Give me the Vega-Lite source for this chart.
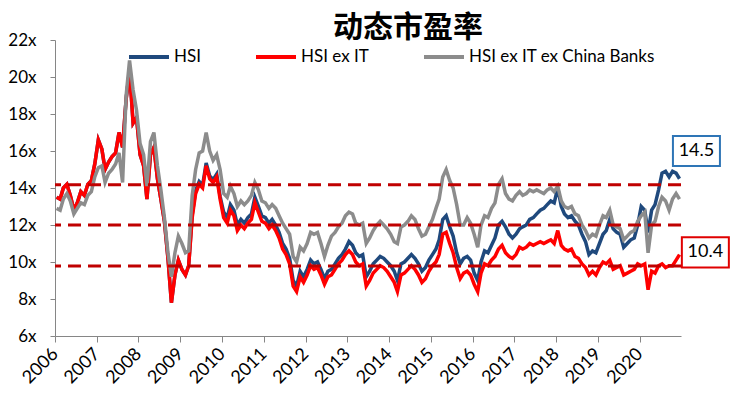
{
  "$schema": "https://vega.github.io/schema/vega-lite/v6.json",
  "width": 626,
  "height": 296,
  "autosize": {"type": "none"},
  "padding": {"left": 55, "top": 40, "right": 54, "bottom": 60},
  "background": "white",
  "title": {
    "text": "动态市盈率",
    "font": "Noto Sans CJK SC",
    "fontSize": 30,
    "fontWeight": "bold",
    "color": "#000000",
    "anchor": "middle",
    "frame": "group",
    "dx": 40,
    "dy": 16,
    "offset": 4
  },
  "config": {
    "view": {"stroke": null},
    "font": "Lato",
    "axis": {
      "domainColor": "#868686",
      "tickColor": "#868686",
      "labelColor": "#000000",
      "labelFont": "Lato",
      "labelFontSize": 17,
      "labelOverlap": false,
      "grid": false,
      "title": null
    },
    "axisY": {"labelOverlap": false}
  },
  "datasets": {
    "pe": [
{"d":"2006-01-15","s":"HSI","v":13.5},{"d":"2006-02-15","s":"HSI","v":13.4},{"d":"2006-03-15","s":"HSI","v":14.0},{"d":"2006-04-15","s":"HSI","v":14.2},{"d":"2006-05-15","s":"HSI","v":13.6},{"d":"2006-06-15","s":"HSI","v":12.8},{"d":"2006-07-15","s":"HSI","v":13.2},{"d":"2006-08-15","s":"HSI","v":13.8},{"d":"2006-09-15","s":"HSI","v":13.6},{"d":"2006-10-15","s":"HSI","v":14.2},{"d":"2006-11-15","s":"HSI","v":14.4},{"d":"2006-12-15","s":"HSI","v":15.3},
{"d":"2007-01-15","s":"HSI","v":16.6},{"d":"2007-02-15","s":"HSI","v":16.1},{"d":"2007-03-15","s":"HSI","v":15.0},{"d":"2007-04-15","s":"HSI","v":15.4},{"d":"2007-05-15","s":"HSI","v":15.7},{"d":"2007-06-15","s":"HSI","v":15.9},{"d":"2007-07-15","s":"HSI","v":17.0},{"d":"2007-08-15","s":"HSI","v":16.2},{"d":"2007-09-15","s":"HSI","v":18.8},{"d":"2007-10-15","s":"HSI","v":20.4},{"d":"2007-11-15","s":"HSI","v":17.5},{"d":"2007-12-15","s":"HSI","v":17.8},
{"d":"2008-01-15","s":"HSI","v":15.8},{"d":"2008-02-15","s":"HSI","v":15.2},{"d":"2008-03-15","s":"HSI","v":13.4},{"d":"2008-04-15","s":"HSI","v":15.8},{"d":"2008-05-15","s":"HSI","v":16.2},{"d":"2008-06-15","s":"HSI","v":14.5},{"d":"2008-07-15","s":"HSI","v":13.4},{"d":"2008-08-15","s":"HSI","v":12.2},{"d":"2008-09-15","s":"HSI","v":10.2},{"d":"2008-10-15","s":"HSI","v":7.8},{"d":"2008-11-15","s":"HSI","v":9.3},{"d":"2008-12-15","s":"HSI","v":10.1},
{"d":"2009-01-15","s":"HSI","v":9.6},{"d":"2009-02-15","s":"HSI","v":9.3},{"d":"2009-03-15","s":"HSI","v":9.8},{"d":"2009-04-15","s":"HSI","v":12.55},{"d":"2009-05-15","s":"HSI","v":13.85},{"d":"2009-06-15","s":"HSI","v":14.35},{"d":"2009-07-15","s":"HSI","v":14.15},{"d":"2009-08-15","s":"HSI","v":15.35},{"d":"2009-09-15","s":"HSI","v":14.65},{"d":"2009-10-15","s":"HSI","v":14.45},{"d":"2009-11-15","s":"HSI","v":14.75},{"d":"2009-12-15","s":"HSI","v":13.55},
{"d":"2010-01-15","s":"HSI","v":12.7},{"d":"2010-02-15","s":"HSI","v":12.4},{"d":"2010-03-15","s":"HSI","v":13.1},{"d":"2010-04-15","s":"HSI","v":12.8},{"d":"2010-05-15","s":"HSI","v":12.0},{"d":"2010-06-15","s":"HSI","v":12.3},{"d":"2010-07-15","s":"HSI","v":12.1},{"d":"2010-08-15","s":"HSI","v":12.4},{"d":"2010-09-15","s":"HSI","v":12.6},{"d":"2010-10-15","s":"HSI","v":13.5},{"d":"2010-11-15","s":"HSI","v":13.0},{"d":"2010-12-15","s":"HSI","v":12.5},
{"d":"2011-01-15","s":"HSI","v":12.4},{"d":"2011-02-15","s":"HSI","v":12.1},{"d":"2011-03-15","s":"HSI","v":12.3},{"d":"2011-04-15","s":"HSI","v":12.0},{"d":"2011-05-15","s":"HSI","v":11.6},{"d":"2011-06-15","s":"HSI","v":11.0},{"d":"2011-07-15","s":"HSI","v":10.7},{"d":"2011-08-15","s":"HSI","v":10.2},{"d":"2011-09-15","s":"HSI","v":9.0},{"d":"2011-10-15","s":"HSI","v":8.7},{"d":"2011-11-15","s":"HSI","v":9.5},{"d":"2011-12-15","s":"HSI","v":9.2},
{"d":"2012-01-15","s":"HSI","v":9.6},{"d":"2012-02-15","s":"HSI","v":10.1},{"d":"2012-03-15","s":"HSI","v":9.9},{"d":"2012-04-15","s":"HSI","v":10.0},{"d":"2012-05-15","s":"HSI","v":9.6},{"d":"2012-06-15","s":"HSI","v":9.1},{"d":"2012-07-15","s":"HSI","v":9.5},{"d":"2012-08-15","s":"HSI","v":9.6},{"d":"2012-09-15","s":"HSI","v":9.9},{"d":"2012-10-15","s":"HSI","v":10.2},{"d":"2012-11-15","s":"HSI","v":10.4},{"d":"2012-12-15","s":"HSI","v":10.7},
{"d":"2013-01-15","s":"HSI","v":11.1},{"d":"2013-02-15","s":"HSI","v":10.9},{"d":"2013-03-15","s":"HSI","v":10.5},{"d":"2013-04-15","s":"HSI","v":10.3},{"d":"2013-05-15","s":"HSI","v":10.4},{"d":"2013-06-15","s":"HSI","v":9.2},{"d":"2013-07-15","s":"HSI","v":9.5},{"d":"2013-08-15","s":"HSI","v":9.9},{"d":"2013-09-15","s":"HSI","v":10.1},{"d":"2013-10-15","s":"HSI","v":10.3},{"d":"2013-11-15","s":"HSI","v":10.2},{"d":"2013-12-15","s":"HSI","v":10.0},
{"d":"2014-01-15","s":"HSI","v":9.8},{"d":"2014-02-15","s":"HSI","v":9.5},{"d":"2014-03-15","s":"HSI","v":9.0},{"d":"2014-04-15","s":"HSI","v":9.9},{"d":"2014-05-15","s":"HSI","v":10.0},{"d":"2014-06-15","s":"HSI","v":10.2},{"d":"2014-07-15","s":"HSI","v":10.4},{"d":"2014-08-15","s":"HSI","v":10.2},{"d":"2014-09-15","s":"HSI","v":9.9},{"d":"2014-10-15","s":"HSI","v":9.5},{"d":"2014-11-15","s":"HSI","v":9.7},{"d":"2014-12-15","s":"HSI","v":10.1},
{"d":"2015-01-15","s":"HSI","v":10.4},{"d":"2015-02-15","s":"HSI","v":10.7},{"d":"2015-03-15","s":"HSI","v":11.2},{"d":"2015-04-15","s":"HSI","v":12.3},{"d":"2015-05-15","s":"HSI","v":12.5},{"d":"2015-06-15","s":"HSI","v":11.9},{"d":"2015-07-15","s":"HSI","v":11.4},{"d":"2015-08-15","s":"HSI","v":10.5},{"d":"2015-09-15","s":"HSI","v":9.9},{"d":"2015-10-15","s":"HSI","v":10.2},{"d":"2015-11-15","s":"HSI","v":10.3},{"d":"2015-12-15","s":"HSI","v":10.1},
{"d":"2016-01-15","s":"HSI","v":9.4},{"d":"2016-02-15","s":"HSI","v":9.0},{"d":"2016-03-15","s":"HSI","v":10.0},{"d":"2016-04-15","s":"HSI","v":10.6},{"d":"2016-05-15","s":"HSI","v":10.5},{"d":"2016-06-15","s":"HSI","v":10.9},{"d":"2016-07-15","s":"HSI","v":11.3},{"d":"2016-08-15","s":"HSI","v":12.0},{"d":"2016-09-15","s":"HSI","v":12.2},{"d":"2016-10-15","s":"HSI","v":11.9},{"d":"2016-11-15","s":"HSI","v":11.5},{"d":"2016-12-15","s":"HSI","v":11.3},
{"d":"2017-01-15","s":"HSI","v":11.5},{"d":"2017-02-15","s":"HSI","v":11.8},{"d":"2017-03-15","s":"HSI","v":11.9},{"d":"2017-04-15","s":"HSI","v":12.0},{"d":"2017-05-15","s":"HSI","v":12.3},{"d":"2017-06-15","s":"HSI","v":12.4},{"d":"2017-07-15","s":"HSI","v":12.6},{"d":"2017-08-15","s":"HSI","v":12.8},{"d":"2017-09-15","s":"HSI","v":12.9},{"d":"2017-10-15","s":"HSI","v":13.1},{"d":"2017-11-15","s":"HSI","v":13.3},{"d":"2017-12-15","s":"HSI","v":13.2},
{"d":"2018-01-15","s":"HSI","v":14.0},{"d":"2018-02-15","s":"HSI","v":13.0},{"d":"2018-03-15","s":"HSI","v":12.6},{"d":"2018-04-15","s":"HSI","v":12.4},{"d":"2018-05-15","s":"HSI","v":12.5},{"d":"2018-06-15","s":"HSI","v":12.2},{"d":"2018-07-15","s":"HSI","v":12.0},{"d":"2018-08-15","s":"HSI","v":11.5},{"d":"2018-09-15","s":"HSI","v":11.1},{"d":"2018-10-15","s":"HSI","v":10.4},{"d":"2018-11-15","s":"HSI","v":10.6},{"d":"2018-12-15","s":"HSI","v":10.5},
{"d":"2019-01-15","s":"HSI","v":11.0},{"d":"2019-02-15","s":"HSI","v":11.5},{"d":"2019-03-15","s":"HSI","v":11.7},{"d":"2019-04-15","s":"HSI","v":12.3},{"d":"2019-05-15","s":"HSI","v":11.8},{"d":"2019-06-15","s":"HSI","v":11.6},{"d":"2019-07-15","s":"HSI","v":11.5},{"d":"2019-08-15","s":"HSI","v":10.8},{"d":"2019-09-15","s":"HSI","v":11.0},{"d":"2019-10-15","s":"HSI","v":11.2},{"d":"2019-11-15","s":"HSI","v":11.3},{"d":"2019-12-15","s":"HSI","v":12.0},
{"d":"2020-01-15","s":"HSI","v":13.0},{"d":"2020-02-15","s":"HSI","v":12.8},{"d":"2020-03-15","s":"HSI","v":11.6},{"d":"2020-04-15","s":"HSI","v":12.8},{"d":"2020-05-15","s":"HSI","v":13.1},{"d":"2020-06-15","s":"HSI","v":13.9},{"d":"2020-07-15","s":"HSI","v":14.8},{"d":"2020-08-15","s":"HSI","v":14.9},{"d":"2020-09-15","s":"HSI","v":14.6},{"d":"2020-10-15","s":"HSI","v":14.9},{"d":"2020-11-15","s":"HSI","v":14.8},{"d":"2020-12-15","s":"HSI","v":14.5},

{"d":"2006-01-15","s":"HSI ex IT","v":13.5},{"d":"2006-02-15","s":"HSI ex IT","v":13.4},{"d":"2006-03-15","s":"HSI ex IT","v":14.0},{"d":"2006-04-15","s":"HSI ex IT","v":14.2},{"d":"2006-05-15","s":"HSI ex IT","v":13.6},{"d":"2006-06-15","s":"HSI ex IT","v":12.8},{"d":"2006-07-15","s":"HSI ex IT","v":13.2},{"d":"2006-08-15","s":"HSI ex IT","v":13.8},{"d":"2006-09-15","s":"HSI ex IT","v":13.6},{"d":"2006-10-15","s":"HSI ex IT","v":14.2},{"d":"2006-11-15","s":"HSI ex IT","v":14.4},{"d":"2006-12-15","s":"HSI ex IT","v":15.3},
{"d":"2007-01-15","s":"HSI ex IT","v":16.6},{"d":"2007-02-15","s":"HSI ex IT","v":16.1},{"d":"2007-03-15","s":"HSI ex IT","v":15.0},{"d":"2007-04-15","s":"HSI ex IT","v":15.4},{"d":"2007-05-15","s":"HSI ex IT","v":15.7},{"d":"2007-06-15","s":"HSI ex IT","v":15.9},{"d":"2007-07-15","s":"HSI ex IT","v":17.0},{"d":"2007-08-15","s":"HSI ex IT","v":16.2},{"d":"2007-09-15","s":"HSI ex IT","v":18.8},{"d":"2007-10-15","s":"HSI ex IT","v":20.4},{"d":"2007-11-15","s":"HSI ex IT","v":17.5},{"d":"2007-12-15","s":"HSI ex IT","v":17.8},
{"d":"2008-01-15","s":"HSI ex IT","v":15.8},{"d":"2008-02-15","s":"HSI ex IT","v":15.2},{"d":"2008-03-15","s":"HSI ex IT","v":13.4},{"d":"2008-04-15","s":"HSI ex IT","v":15.8},{"d":"2008-05-15","s":"HSI ex IT","v":16.2},{"d":"2008-06-15","s":"HSI ex IT","v":14.5},{"d":"2008-07-15","s":"HSI ex IT","v":13.4},{"d":"2008-08-15","s":"HSI ex IT","v":12.2},{"d":"2008-09-15","s":"HSI ex IT","v":10.2},{"d":"2008-10-15","s":"HSI ex IT","v":7.8},{"d":"2008-11-15","s":"HSI ex IT","v":9.3},{"d":"2008-12-15","s":"HSI ex IT","v":10.1},
{"d":"2009-01-15","s":"HSI ex IT","v":9.6},{"d":"2009-02-15","s":"HSI ex IT","v":9.3},{"d":"2009-03-15","s":"HSI ex IT","v":9.8},{"d":"2009-04-15","s":"HSI ex IT","v":12.4},{"d":"2009-05-15","s":"HSI ex IT","v":13.7},{"d":"2009-06-15","s":"HSI ex IT","v":14.2},{"d":"2009-07-15","s":"HSI ex IT","v":14.0},{"d":"2009-08-15","s":"HSI ex IT","v":15.2},{"d":"2009-09-15","s":"HSI ex IT","v":14.5},{"d":"2009-10-15","s":"HSI ex IT","v":14.3},{"d":"2009-11-15","s":"HSI ex IT","v":14.6},{"d":"2009-12-15","s":"HSI ex IT","v":13.4},
{"d":"2010-01-15","s":"HSI ex IT","v":12.4},{"d":"2010-02-15","s":"HSI ex IT","v":12.1},{"d":"2010-03-15","s":"HSI ex IT","v":12.8},{"d":"2010-04-15","s":"HSI ex IT","v":12.5},{"d":"2010-05-15","s":"HSI ex IT","v":11.7},{"d":"2010-06-15","s":"HSI ex IT","v":12.0},{"d":"2010-07-15","s":"HSI ex IT","v":11.8},{"d":"2010-08-15","s":"HSI ex IT","v":12.1},{"d":"2010-09-15","s":"HSI ex IT","v":12.3},{"d":"2010-10-15","s":"HSI ex IT","v":13.2},{"d":"2010-11-15","s":"HSI ex IT","v":12.7},{"d":"2010-12-15","s":"HSI ex IT","v":12.2},
{"d":"2011-01-15","s":"HSI ex IT","v":12.1},{"d":"2011-02-15","s":"HSI ex IT","v":11.8},{"d":"2011-03-15","s":"HSI ex IT","v":12.0},{"d":"2011-04-15","s":"HSI ex IT","v":11.7},{"d":"2011-05-15","s":"HSI ex IT","v":11.3},{"d":"2011-06-15","s":"HSI ex IT","v":10.7},{"d":"2011-07-15","s":"HSI ex IT","v":10.4},{"d":"2011-08-15","s":"HSI ex IT","v":9.9},{"d":"2011-09-15","s":"HSI ex IT","v":8.7},{"d":"2011-10-15","s":"HSI ex IT","v":8.4},{"d":"2011-11-15","s":"HSI ex IT","v":9.2},{"d":"2011-12-15","s":"HSI ex IT","v":8.9},
{"d":"2012-01-15","s":"HSI ex IT","v":9.3},{"d":"2012-02-15","s":"HSI ex IT","v":9.8},{"d":"2012-03-15","s":"HSI ex IT","v":9.6},{"d":"2012-04-15","s":"HSI ex IT","v":9.7},{"d":"2012-05-15","s":"HSI ex IT","v":9.3},{"d":"2012-06-15","s":"HSI ex IT","v":8.8},{"d":"2012-07-15","s":"HSI ex IT","v":9.2},{"d":"2012-08-15","s":"HSI ex IT","v":9.3},{"d":"2012-09-15","s":"HSI ex IT","v":9.6},{"d":"2012-10-15","s":"HSI ex IT","v":9.9},{"d":"2012-11-15","s":"HSI ex IT","v":10.1},{"d":"2012-12-15","s":"HSI ex IT","v":10.4},
{"d":"2013-01-15","s":"HSI ex IT","v":10.6},{"d":"2013-02-15","s":"HSI ex IT","v":10.4},{"d":"2013-03-15","s":"HSI ex IT","v":10.0},{"d":"2013-04-15","s":"HSI ex IT","v":9.8},{"d":"2013-05-15","s":"HSI ex IT","v":9.9},{"d":"2013-06-15","s":"HSI ex IT","v":8.7},{"d":"2013-07-15","s":"HSI ex IT","v":9.0},{"d":"2013-08-15","s":"HSI ex IT","v":9.4},{"d":"2013-09-15","s":"HSI ex IT","v":9.6},{"d":"2013-10-15","s":"HSI ex IT","v":9.8},{"d":"2013-11-15","s":"HSI ex IT","v":9.7},{"d":"2013-12-15","s":"HSI ex IT","v":9.5},
{"d":"2014-01-15","s":"HSI ex IT","v":9.2},{"d":"2014-02-15","s":"HSI ex IT","v":8.9},{"d":"2014-03-15","s":"HSI ex IT","v":8.4},{"d":"2014-04-15","s":"HSI ex IT","v":9.3},{"d":"2014-05-15","s":"HSI ex IT","v":9.4},{"d":"2014-06-15","s":"HSI ex IT","v":9.6},{"d":"2014-07-15","s":"HSI ex IT","v":9.8},{"d":"2014-08-15","s":"HSI ex IT","v":9.6},{"d":"2014-09-15","s":"HSI ex IT","v":9.3},{"d":"2014-10-15","s":"HSI ex IT","v":8.9},{"d":"2014-11-15","s":"HSI ex IT","v":9.1},{"d":"2014-12-15","s":"HSI ex IT","v":9.5},
{"d":"2015-01-15","s":"HSI ex IT","v":9.8},{"d":"2015-02-15","s":"HSI ex IT","v":10.0},{"d":"2015-03-15","s":"HSI ex IT","v":10.4},{"d":"2015-04-15","s":"HSI ex IT","v":11.5},{"d":"2015-05-15","s":"HSI ex IT","v":11.6},{"d":"2015-06-15","s":"HSI ex IT","v":11.0},{"d":"2015-07-15","s":"HSI ex IT","v":10.5},{"d":"2015-08-15","s":"HSI ex IT","v":9.7},{"d":"2015-09-15","s":"HSI ex IT","v":9.1},{"d":"2015-10-15","s":"HSI ex IT","v":9.4},{"d":"2015-11-15","s":"HSI ex IT","v":9.5},{"d":"2015-12-15","s":"HSI ex IT","v":9.3},
{"d":"2016-01-15","s":"HSI ex IT","v":8.8},{"d":"2016-02-15","s":"HSI ex IT","v":8.4},{"d":"2016-03-15","s":"HSI ex IT","v":9.4},{"d":"2016-04-15","s":"HSI ex IT","v":9.9},{"d":"2016-05-15","s":"HSI ex IT","v":9.8},{"d":"2016-06-15","s":"HSI ex IT","v":10.1},{"d":"2016-07-15","s":"HSI ex IT","v":10.3},{"d":"2016-08-15","s":"HSI ex IT","v":10.7},{"d":"2016-09-15","s":"HSI ex IT","v":10.9},{"d":"2016-10-15","s":"HSI ex IT","v":10.5},{"d":"2016-11-15","s":"HSI ex IT","v":10.3},{"d":"2016-12-15","s":"HSI ex IT","v":10.2},
{"d":"2017-01-15","s":"HSI ex IT","v":10.4},{"d":"2017-02-15","s":"HSI ex IT","v":10.8},{"d":"2017-03-15","s":"HSI ex IT","v":10.7},{"d":"2017-04-15","s":"HSI ex IT","v":10.8},{"d":"2017-05-15","s":"HSI ex IT","v":11.0},{"d":"2017-06-15","s":"HSI ex IT","v":10.9},{"d":"2017-07-15","s":"HSI ex IT","v":11.0},{"d":"2017-08-15","s":"HSI ex IT","v":11.1},{"d":"2017-09-15","s":"HSI ex IT","v":11.0},{"d":"2017-10-15","s":"HSI ex IT","v":11.1},{"d":"2017-11-15","s":"HSI ex IT","v":11.2},{"d":"2017-12-15","s":"HSI ex IT","v":11.0},
{"d":"2018-01-15","s":"HSI ex IT","v":11.7},{"d":"2018-02-15","s":"HSI ex IT","v":10.9},{"d":"2018-03-15","s":"HSI ex IT","v":10.7},{"d":"2018-04-15","s":"HSI ex IT","v":10.6},{"d":"2018-05-15","s":"HSI ex IT","v":10.7},{"d":"2018-06-15","s":"HSI ex IT","v":10.3},{"d":"2018-07-15","s":"HSI ex IT","v":10.2},{"d":"2018-08-15","s":"HSI ex IT","v":9.9},{"d":"2018-09-15","s":"HSI ex IT","v":9.7},{"d":"2018-10-15","s":"HSI ex IT","v":9.3},{"d":"2018-11-15","s":"HSI ex IT","v":9.5},{"d":"2018-12-15","s":"HSI ex IT","v":9.3},
{"d":"2019-01-15","s":"HSI ex IT","v":9.7},{"d":"2019-02-15","s":"HSI ex IT","v":10.0},{"d":"2019-03-15","s":"HSI ex IT","v":9.9},{"d":"2019-04-15","s":"HSI ex IT","v":10.1},{"d":"2019-05-15","s":"HSI ex IT","v":9.6},{"d":"2019-06-15","s":"HSI ex IT","v":9.7},{"d":"2019-07-15","s":"HSI ex IT","v":9.8},{"d":"2019-08-15","s":"HSI ex IT","v":9.3},{"d":"2019-09-15","s":"HSI ex IT","v":9.4},{"d":"2019-10-15","s":"HSI ex IT","v":9.5},{"d":"2019-11-15","s":"HSI ex IT","v":9.6},{"d":"2019-12-15","s":"HSI ex IT","v":9.9},
{"d":"2020-01-15","s":"HSI ex IT","v":9.8},{"d":"2020-02-15","s":"HSI ex IT","v":9.9},{"d":"2020-03-15","s":"HSI ex IT","v":8.5},{"d":"2020-04-15","s":"HSI ex IT","v":9.5},{"d":"2020-05-15","s":"HSI ex IT","v":9.4},{"d":"2020-06-15","s":"HSI ex IT","v":9.8},{"d":"2020-07-15","s":"HSI ex IT","v":9.9},{"d":"2020-08-15","s":"HSI ex IT","v":9.7},{"d":"2020-09-15","s":"HSI ex IT","v":9.8},{"d":"2020-10-15","s":"HSI ex IT","v":9.8},{"d":"2020-11-15","s":"HSI ex IT","v":10.1},{"d":"2020-12-15","s":"HSI ex IT","v":10.4},

{"d":"2006-01-15","s":"HSI ex IT ex China Banks","v":12.9},{"d":"2006-02-15","s":"HSI ex IT ex China Banks","v":12.8},{"d":"2006-03-15","s":"HSI ex IT ex China Banks","v":13.4},{"d":"2006-04-15","s":"HSI ex IT ex China Banks","v":13.7},{"d":"2006-05-15","s":"HSI ex IT ex China Banks","v":13.3},{"d":"2006-06-15","s":"HSI ex IT ex China Banks","v":12.6},{"d":"2006-07-15","s":"HSI ex IT ex China Banks","v":12.9},{"d":"2006-08-15","s":"HSI ex IT ex China Banks","v":13.2},{"d":"2006-09-15","s":"HSI ex IT ex China Banks","v":13.1},{"d":"2006-10-15","s":"HSI ex IT ex China Banks","v":13.6},{"d":"2006-11-15","s":"HSI ex IT ex China Banks","v":13.8},{"d":"2006-12-15","s":"HSI ex IT ex China Banks","v":14.6},
{"d":"2007-01-15","s":"HSI ex IT ex China Banks","v":15.1},{"d":"2007-02-15","s":"HSI ex IT ex China Banks","v":15.2},{"d":"2007-03-15","s":"HSI ex IT ex China Banks","v":14.3},{"d":"2007-04-15","s":"HSI ex IT ex China Banks","v":14.8},{"d":"2007-05-15","s":"HSI ex IT ex China Banks","v":15.0},{"d":"2007-06-15","s":"HSI ex IT ex China Banks","v":15.3},{"d":"2007-07-15","s":"HSI ex IT ex China Banks","v":15.9},{"d":"2007-08-15","s":"HSI ex IT ex China Banks","v":14.3},{"d":"2007-09-15","s":"HSI ex IT ex China Banks","v":19.0},{"d":"2007-10-15","s":"HSI ex IT ex China Banks","v":20.9},{"d":"2007-11-15","s":"HSI ex IT ex China Banks","v":19.3},{"d":"2007-12-15","s":"HSI ex IT ex China Banks","v":18.2},
{"d":"2008-01-15","s":"HSI ex IT ex China Banks","v":16.4},{"d":"2008-02-15","s":"HSI ex IT ex China Banks","v":15.8},{"d":"2008-03-15","s":"HSI ex IT ex China Banks","v":14.1},{"d":"2008-04-15","s":"HSI ex IT ex China Banks","v":16.5},{"d":"2008-05-15","s":"HSI ex IT ex China Banks","v":17.0},{"d":"2008-06-15","s":"HSI ex IT ex China Banks","v":15.2},{"d":"2008-07-15","s":"HSI ex IT ex China Banks","v":13.9},{"d":"2008-08-15","s":"HSI ex IT ex China Banks","v":12.4},{"d":"2008-09-15","s":"HSI ex IT ex China Banks","v":10.5},{"d":"2008-10-15","s":"HSI ex IT ex China Banks","v":9.2},{"d":"2008-11-15","s":"HSI ex IT ex China Banks","v":10.5},{"d":"2008-12-15","s":"HSI ex IT ex China Banks","v":11.4},
{"d":"2009-01-15","s":"HSI ex IT ex China Banks","v":11.0},{"d":"2009-02-15","s":"HSI ex IT ex China Banks","v":10.5},{"d":"2009-03-15","s":"HSI ex IT ex China Banks","v":10.6},{"d":"2009-04-15","s":"HSI ex IT ex China Banks","v":13.6},{"d":"2009-05-15","s":"HSI ex IT ex China Banks","v":15.0},{"d":"2009-06-15","s":"HSI ex IT ex China Banks","v":15.9},{"d":"2009-07-15","s":"HSI ex IT ex China Banks","v":16.0},{"d":"2009-08-15","s":"HSI ex IT ex China Banks","v":17.0},{"d":"2009-09-15","s":"HSI ex IT ex China Banks","v":16.0},{"d":"2009-10-15","s":"HSI ex IT ex China Banks","v":15.5},{"d":"2009-11-15","s":"HSI ex IT ex China Banks","v":15.8},{"d":"2009-12-15","s":"HSI ex IT ex China Banks","v":15.0},
{"d":"2010-01-15","s":"HSI ex IT ex China Banks","v":13.7},{"d":"2010-02-15","s":"HSI ex IT ex China Banks","v":13.5},{"d":"2010-03-15","s":"HSI ex IT ex China Banks","v":14.1},{"d":"2010-04-15","s":"HSI ex IT ex China Banks","v":13.7},{"d":"2010-05-15","s":"HSI ex IT ex China Banks","v":13.0},{"d":"2010-06-15","s":"HSI ex IT ex China Banks","v":13.3},{"d":"2010-07-15","s":"HSI ex IT ex China Banks","v":13.1},{"d":"2010-08-15","s":"HSI ex IT ex China Banks","v":13.3},{"d":"2010-09-15","s":"HSI ex IT ex China Banks","v":13.6},{"d":"2010-10-15","s":"HSI ex IT ex China Banks","v":14.3},{"d":"2010-11-15","s":"HSI ex IT ex China Banks","v":13.9},{"d":"2010-12-15","s":"HSI ex IT ex China Banks","v":13.3},
{"d":"2011-01-15","s":"HSI ex IT ex China Banks","v":13.2},{"d":"2011-02-15","s":"HSI ex IT ex China Banks","v":12.9},{"d":"2011-03-15","s":"HSI ex IT ex China Banks","v":13.1},{"d":"2011-04-15","s":"HSI ex IT ex China Banks","v":12.9},{"d":"2011-05-15","s":"HSI ex IT ex China Banks","v":12.5},{"d":"2011-06-15","s":"HSI ex IT ex China Banks","v":12.1},{"d":"2011-07-15","s":"HSI ex IT ex China Banks","v":11.8},{"d":"2011-08-15","s":"HSI ex IT ex China Banks","v":11.5},{"d":"2011-09-15","s":"HSI ex IT ex China Banks","v":10.3},{"d":"2011-10-15","s":"HSI ex IT ex China Banks","v":10.0},{"d":"2011-11-15","s":"HSI ex IT ex China Banks","v":10.8},{"d":"2011-12-15","s":"HSI ex IT ex China Banks","v":10.6},
{"d":"2012-01-15","s":"HSI ex IT ex China Banks","v":11.0},{"d":"2012-02-15","s":"HSI ex IT ex China Banks","v":11.6},{"d":"2012-03-15","s":"HSI ex IT ex China Banks","v":11.5},{"d":"2012-04-15","s":"HSI ex IT ex China Banks","v":11.6},{"d":"2012-05-15","s":"HSI ex IT ex China Banks","v":11.0},{"d":"2012-06-15","s":"HSI ex IT ex China Banks","v":10.3},{"d":"2012-07-15","s":"HSI ex IT ex China Banks","v":10.9},{"d":"2012-08-15","s":"HSI ex IT ex China Banks","v":11.4},{"d":"2012-09-15","s":"HSI ex IT ex China Banks","v":11.6},{"d":"2012-10-15","s":"HSI ex IT ex China Banks","v":11.9},{"d":"2012-11-15","s":"HSI ex IT ex China Banks","v":12.1},{"d":"2012-12-15","s":"HSI ex IT ex China Banks","v":12.5},
{"d":"2013-01-15","s":"HSI ex IT ex China Banks","v":12.7},{"d":"2013-02-15","s":"HSI ex IT ex China Banks","v":12.6},{"d":"2013-03-15","s":"HSI ex IT ex China Banks","v":12.1},{"d":"2013-04-15","s":"HSI ex IT ex China Banks","v":12.0},{"d":"2013-05-15","s":"HSI ex IT ex China Banks","v":12.1},{"d":"2013-06-15","s":"HSI ex IT ex China Banks","v":11.0},{"d":"2013-07-15","s":"HSI ex IT ex China Banks","v":11.3},{"d":"2013-08-15","s":"HSI ex IT ex China Banks","v":11.7},{"d":"2013-09-15","s":"HSI ex IT ex China Banks","v":12.0},{"d":"2013-10-15","s":"HSI ex IT ex China Banks","v":12.2},{"d":"2013-11-15","s":"HSI ex IT ex China Banks","v":12.0},{"d":"2013-12-15","s":"HSI ex IT ex China Banks","v":11.8},
{"d":"2014-01-15","s":"HSI ex IT ex China Banks","v":11.5},{"d":"2014-02-15","s":"HSI ex IT ex China Banks","v":11.1},{"d":"2014-03-15","s":"HSI ex IT ex China Banks","v":11.0},{"d":"2014-04-15","s":"HSI ex IT ex China Banks","v":11.9},{"d":"2014-05-15","s":"HSI ex IT ex China Banks","v":12.0},{"d":"2014-06-15","s":"HSI ex IT ex China Banks","v":12.2},{"d":"2014-07-15","s":"HSI ex IT ex China Banks","v":12.5},{"d":"2014-08-15","s":"HSI ex IT ex China Banks","v":12.3},{"d":"2014-09-15","s":"HSI ex IT ex China Banks","v":11.8},{"d":"2014-10-15","s":"HSI ex IT ex China Banks","v":11.4},{"d":"2014-11-15","s":"HSI ex IT ex China Banks","v":11.5},{"d":"2014-12-15","s":"HSI ex IT ex China Banks","v":11.9},
{"d":"2015-01-15","s":"HSI ex IT ex China Banks","v":12.3},{"d":"2015-02-15","s":"HSI ex IT ex China Banks","v":12.9},{"d":"2015-03-15","s":"HSI ex IT ex China Banks","v":13.4},{"d":"2015-04-15","s":"HSI ex IT ex China Banks","v":14.6},{"d":"2015-05-15","s":"HSI ex IT ex China Banks","v":15.0},{"d":"2015-06-15","s":"HSI ex IT ex China Banks","v":14.4},{"d":"2015-07-15","s":"HSI ex IT ex China Banks","v":14.0},{"d":"2015-08-15","s":"HSI ex IT ex China Banks","v":13.1},{"d":"2015-09-15","s":"HSI ex IT ex China Banks","v":12.0},{"d":"2015-10-15","s":"HSI ex IT ex China Banks","v":12.0},{"d":"2015-11-15","s":"HSI ex IT ex China Banks","v":12.4},{"d":"2015-12-15","s":"HSI ex IT ex China Banks","v":12.1},
{"d":"2016-01-15","s":"HSI ex IT ex China Banks","v":11.5},{"d":"2016-02-15","s":"HSI ex IT ex China Banks","v":10.8},{"d":"2016-03-15","s":"HSI ex IT ex China Banks","v":12.0},{"d":"2016-04-15","s":"HSI ex IT ex China Banks","v":12.5},{"d":"2016-05-15","s":"HSI ex IT ex China Banks","v":12.4},{"d":"2016-06-15","s":"HSI ex IT ex China Banks","v":12.9},{"d":"2016-07-15","s":"HSI ex IT ex China Banks","v":13.2},{"d":"2016-08-15","s":"HSI ex IT ex China Banks","v":14.2},{"d":"2016-09-15","s":"HSI ex IT ex China Banks","v":14.5},{"d":"2016-10-15","s":"HSI ex IT ex China Banks","v":13.7},{"d":"2016-11-15","s":"HSI ex IT ex China Banks","v":13.4},{"d":"2016-12-15","s":"HSI ex IT ex China Banks","v":13.3},
{"d":"2017-01-15","s":"HSI ex IT ex China Banks","v":13.6},{"d":"2017-02-15","s":"HSI ex IT ex China Banks","v":13.8},{"d":"2017-03-15","s":"HSI ex IT ex China Banks","v":13.6},{"d":"2017-04-15","s":"HSI ex IT ex China Banks","v":13.7},{"d":"2017-05-15","s":"HSI ex IT ex China Banks","v":13.9},{"d":"2017-06-15","s":"HSI ex IT ex China Banks","v":13.8},{"d":"2017-07-15","s":"HSI ex IT ex China Banks","v":13.9},{"d":"2017-08-15","s":"HSI ex IT ex China Banks","v":13.8},{"d":"2017-09-15","s":"HSI ex IT ex China Banks","v":13.7},{"d":"2017-10-15","s":"HSI ex IT ex China Banks","v":13.9},{"d":"2017-11-15","s":"HSI ex IT ex China Banks","v":14.0},{"d":"2017-12-15","s":"HSI ex IT ex China Banks","v":13.8},
{"d":"2018-01-15","s":"HSI ex IT ex China Banks","v":14.1},{"d":"2018-02-15","s":"HSI ex IT ex China Banks","v":13.3},{"d":"2018-03-15","s":"HSI ex IT ex China Banks","v":13.0},{"d":"2018-04-15","s":"HSI ex IT ex China Banks","v":12.9},{"d":"2018-05-15","s":"HSI ex IT ex China Banks","v":13.0},{"d":"2018-06-15","s":"HSI ex IT ex China Banks","v":12.6},{"d":"2018-07-15","s":"HSI ex IT ex China Banks","v":12.5},{"d":"2018-08-15","s":"HSI ex IT ex China Banks","v":12.0},{"d":"2018-09-15","s":"HSI ex IT ex China Banks","v":11.7},{"d":"2018-10-15","s":"HSI ex IT ex China Banks","v":11.3},{"d":"2018-11-15","s":"HSI ex IT ex China Banks","v":11.5},{"d":"2018-12-15","s":"HSI ex IT ex China Banks","v":11.4},
{"d":"2019-01-15","s":"HSI ex IT ex China Banks","v":12.0},{"d":"2019-02-15","s":"HSI ex IT ex China Banks","v":12.5},{"d":"2019-03-15","s":"HSI ex IT ex China Banks","v":12.4},{"d":"2019-04-15","s":"HSI ex IT ex China Banks","v":12.8},{"d":"2019-05-15","s":"HSI ex IT ex China Banks","v":12.0},{"d":"2019-06-15","s":"HSI ex IT ex China Banks","v":11.9},{"d":"2019-07-15","s":"HSI ex IT ex China Banks","v":11.8},{"d":"2019-08-15","s":"HSI ex IT ex China Banks","v":11.2},{"d":"2019-09-15","s":"HSI ex IT ex China Banks","v":11.4},{"d":"2019-10-15","s":"HSI ex IT ex China Banks","v":11.6},{"d":"2019-11-15","s":"HSI ex IT ex China Banks","v":11.7},{"d":"2019-12-15","s":"HSI ex IT ex China Banks","v":12.2},
{"d":"2020-01-15","s":"HSI ex IT ex China Banks","v":12.5},{"d":"2020-02-15","s":"HSI ex IT ex China Banks","v":12.7},{"d":"2020-03-15","s":"HSI ex IT ex China Banks","v":10.5},{"d":"2020-04-15","s":"HSI ex IT ex China Banks","v":12.0},{"d":"2020-05-15","s":"HSI ex IT ex China Banks","v":12.2},{"d":"2020-06-15","s":"HSI ex IT ex China Banks","v":13.0},{"d":"2020-07-15","s":"HSI ex IT ex China Banks","v":13.5},{"d":"2020-08-15","s":"HSI ex IT ex China Banks","v":13.3},{"d":"2020-09-15","s":"HSI ex IT ex China Banks","v":12.8},{"d":"2020-10-15","s":"HSI ex IT ex China Banks","v":13.4},{"d":"2020-11-15","s":"HSI ex IT ex China Banks","v":13.7},{"d":"2020-12-15","s":"HSI ex IT ex China Banks","v":13.4}
    ],
    "bands": [{"v": 14.17}, {"v": 12.0}, {"v": 9.78}],
    "notes": [
      {"d": "2021-05-12", "v": 16.0, "t": "14.5", "s": "HSI"},
      {"d": "2021-07-29", "v": 10.52, "t": "10.4", "s": "HSI ex IT"}
    ]
  },
  "layer": [
    {
      "data": {"name": "pe"},
      "mark": {"type": "line", "strokeWidth": 3.5},
      "encoding": {
        "x": {
          "field": "d", "type": "temporal",
          "scale": {"type": "utc", "domain": ["2006-01-01", "2020-12-28"]},
          "axis": {
            "format": "%Y",
            "tickCount": {"interval": "year", "step": 1},
            "labelAngle": -45,
            "labelAlign": "right",
            "labelBaseline": "middle",
            "labelPadding": 9,
            "labelFontSize": 18,
            "tickSize": 6,
            "labelOverlap": false,
            "labelFlush": false
          }
        },
        "y": {
          "field": "v", "type": "quantitative",
          "scale": {"domain": [6, 22], "nice": false, "zero": false},
          "axis": {
            "values": [6, 8, 10, 12, 14, 16, 18, 20, 22],
            "labelExpr": "datum.value + 'x'",
            "labelOverlap": false,
            "tickSize": 5,
            "labelPadding": 14
          }
        },
        "color": {
          "field": "s", "type": "nominal",
          "scale": {
            "domain": ["HSI", "HSI ex IT", "HSI ex IT ex China Banks"],
            "range": ["#1F497D", "#FF0000", "#8C8C8C"]
          },
          "legend": {
            "title": null,
            "orient": "none",
            "legendX": 72,
            "legendY": -5,
            "direction": "horizontal",
            "symbolType": "stroke",
            "symbolSize": 1600,
            "symbolStrokeWidth": 4,
            "labelFont": "Lato",
            "labelFontSize": 17,
            "labelColor": "#000000",
            "labelOffset": 3,
            "columnPadding": 47,
            "labelLimit": 400,
            "padding": 0
          }
        }
      }
    },
    {
      "data": {"name": "bands"},
      "mark": {"type": "rule", "color": "#C00000", "strokeWidth": 3, "strokeDash": [13, 7]},
      "encoding": {
        "y": {
          "field": "v", "type": "quantitative",
          "axis": {
            "values": [6, 8, 10, 12, 14, 16, 18, 20, 22],
            "labelExpr": "datum.value + 'x'",
            "labelOverlap": false,
            "tickSize": 5,
            "labelPadding": 14
          }
        }
      }
    },
    {
      "data": {"name": "notes"},
      "mark": {"type": "point", "shape": "M-1,-0.64L1,-0.64L1,0.64L-1,0.64Z", "size": 2209, "filled": true, "fill": "white", "strokeWidth": 2, "opacity": 1},
      "encoding": {
        "x": {"field": "d", "type": "temporal"},
        "y": {
          "field": "v", "type": "quantitative",
          "axis": {
            "values": [6, 8, 10, 12, 14, 16, 18, 20, 22],
            "labelExpr": "datum.value + 'x'",
            "labelOverlap": false,
            "tickSize": 5,
            "labelPadding": 14
          }
        },
        "stroke": {
          "field": "s", "type": "nominal",
          "scale": {"domain": ["HSI", "HSI ex IT"], "range": ["#2E75B6", "#E00000"]},
          "legend": null
        }
      }
    },
    {
      "data": {"name": "notes"},
      "mark": {"type": "text", "font": "Lato", "fontSize": 18, "color": "#000000", "align": "center", "baseline": "middle"},
      "encoding": {
        "x": {"field": "d", "type": "temporal"},
        "y": {
          "field": "v", "type": "quantitative",
          "axis": {
            "values": [6, 8, 10, 12, 14, 16, 18, 20, 22],
            "labelExpr": "datum.value + 'x'",
            "labelOverlap": false,
            "tickSize": 5,
            "labelPadding": 14
          }
        },
        "text": {"field": "t"}
      }
    }
  ]
}
